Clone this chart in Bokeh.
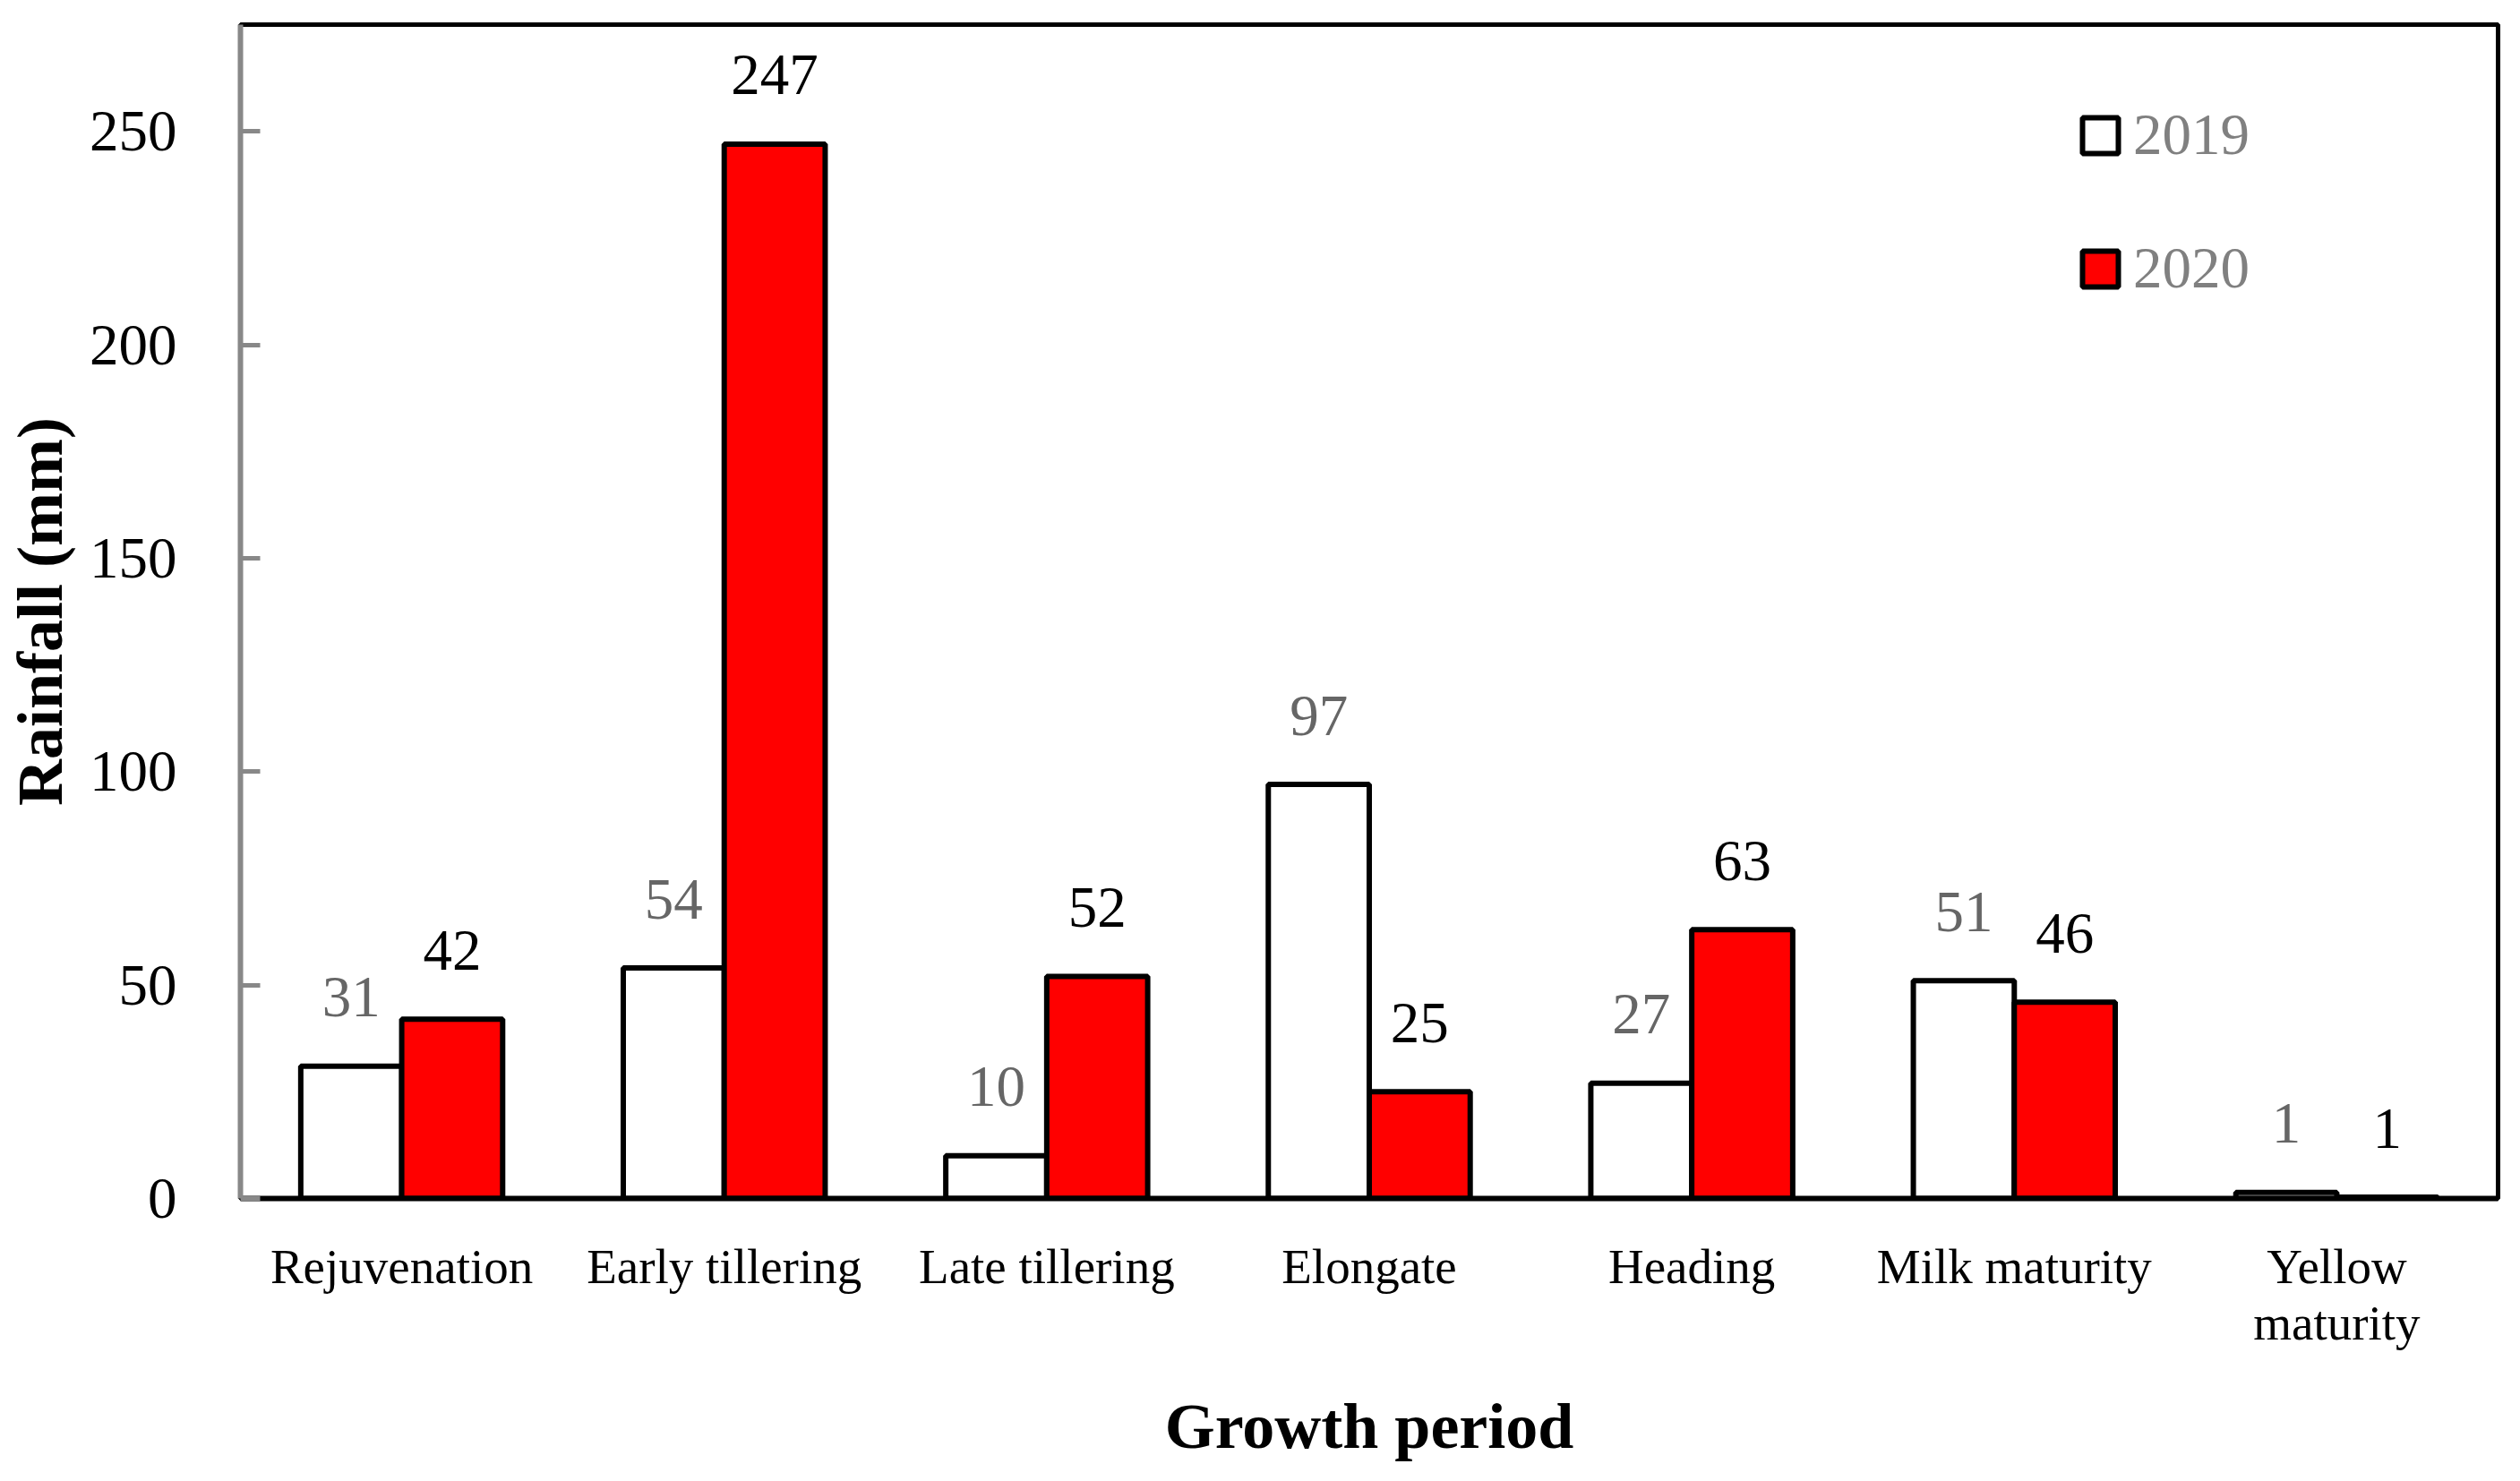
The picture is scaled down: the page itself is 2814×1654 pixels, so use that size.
from bokeh.plotting import figure
from bokeh.models import (ColumnDataSource, FixedTicker, Legend, LegendItem, Range1d)
from bokeh.transform import dodge
from bokeh.core.properties import value
from bokeh.embed import file_html
from bokeh.resources import INLINE

# ---- data ----
periods = ["Rejuvenation", "Early tillering", "Late tillering", "Elongate",
           "Heading", "Milk maturity", "Yellow\nmaturity"]
rain_2019 = [31, 54, 10, 97, 27, 51, 1.4]
rain_2020 = [42, 247, 52, 25, 63, 46, 0.3]
labels_2019 = ["31", "54", "10", "97", "27", "51", "1"]
labels_2020 = ["42", "247", "52", "25", "63", "46", "1"]
y_ticks = [0, 50, 100, 150, 200, 250]

FONT = "Liberation Serif"

src = ColumnDataSource(dict(period=periods, y2019=rain_2019, y2020=rain_2020,
                            l2019=labels_2019, l2020=labels_2020))

p = figure(x_range=periods, y_range=Range1d(0, 275), width=2798, height=1638,
           output_backend="svg", toolbar_location=None,
           min_border_left=268, min_border_right=9, min_border_top=27,
           min_border_bottom=300)
p.x_range.range_padding = 0
p.grid.visible = False
p.outline_line_color = "black"
p.outline_line_width = 5
p.outline_line_alpha = 1
p.background_fill_color = "white"
p.border_fill_color = "white"

bw = 0.313
r19 = p.vbar(x=dodge("period", -bw / 2, range=p.x_range), top="y2019", bottom=0,
             width=bw, source=src, fill_color="white", line_color="black", line_width=6)
r20 = p.vbar(x=dodge("period", bw / 2, range=p.x_range), top="y2020", bottom=0,
             width=bw, source=src, fill_color="#FF0000", line_color="black", line_width=6)

p.text(x=dodge("period", -bw / 2, range=p.x_range), y="y2019", text="l2019", source=src,
       text_align="center", text_baseline="alphabetic", y_offset=-77,
       text_font=value(FONT), text_font_size="65px", text_color="#666666")
p.text(x=dodge("period", bw / 2, range=p.x_range), y="y2020", text="l2020", source=src,
       text_align="center", text_baseline="alphabetic", y_offset=-77,
       text_font=value(FONT), text_font_size="65px", text_color="black")

# y axis
ya = p.yaxis[0]
ya.ticker = FixedTicker(ticks=y_ticks)
ya.axis_line_color = "#888888"
ya.axis_line_width = 6
ya.major_tick_line_color = "#888888"
ya.major_tick_line_width = 5
ya.major_tick_in = 22
ya.major_tick_out = 0
ya.minor_tick_line_color = None
ya.major_label_standoff = 71
ya.major_label_text_font = FONT
ya.major_label_text_font_size = "65px"
ya.major_label_text_color = "black"
ya.axis_label = "Rainfall (mm)"
ya.axis_label_text_font = FONT
ya.axis_label_text_font_style = "bold"
ya.axis_label_text_font_size = "72px"
ya.axis_label_text_color = "black"
ya.axis_label_standoff = 12

# x axis
xa = p.xaxis[0]
xa.axis_line_color = "black"
xa.axis_line_width = 6
xa.major_tick_line_color = None
xa.major_tick_in = 0
xa.major_tick_out = 0
xa.major_label_standoff = 45
xa.major_label_text_font = FONT
xa.major_label_text_font_size = "55px"
xa.major_label_text_line_height = 1.04
xa.major_label_text_color = "black"
xa.axis_label = "Growth period"
xa.axis_label_text_font = FONT
xa.axis_label_text_font_style = "bold"
xa.axis_label_text_font_size = "72px"
xa.axis_label_text_color = "black"
xa.axis_label_standoff = 42

legend = Legend(items=[LegendItem(label="2019", renderers=[r19]),
                       LegendItem(label="2020", renderers=[r20])],
                location=(2052, 1001), orientation="vertical",
                glyph_width=50, glyph_height=50, label_standoff=12, spacing=74,
                padding=0, margin=0, border_line_color=None, background_fill_alpha=0,
                label_text_font=FONT, label_text_font_size="65px",
                label_text_color="#808080")
p.add_layout(legend)

open("out.html", "w").write(file_html(p, INLINE))
